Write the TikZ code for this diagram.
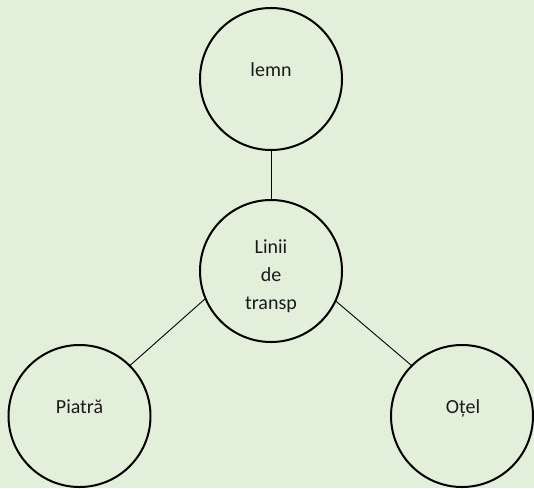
\documentclass[tikz,border=0pt]{standalone}
\usepackage{fontspec}
\setmainfont{Carlito}
\definecolor{bg}{HTML}{E2EFDA}
\definecolor{txt}{HTML}{1A1A1A}
\begin{document}
\begin{tikzpicture}[x=1pt,y=-1pt,
  circ/.style={circle,draw=black,line width=2pt,minimum size=142pt,inner sep=0pt},
  lbl/.style={font=\fontsize{20}{28}\selectfont,text=txt,inner sep=0pt,align=center},
  conn/.style={draw=black,line width=0.9pt}]
\fill[bg] (0,0) rectangle (534,488);
\useasboundingbox (0,0) rectangle (534,488);
\node[circ] (top) at (271,79) {};
\node[circ] (mid) at (271,271) {};
\node[circ] (left) at (79.5,416) {};
\node[circ] (right) at (462,416) {};
\node[lbl,anchor=base] (ttop) at (271,76) {lemn};
\node[lbl,anchor=center] (tmid) at (271,276.5) {Linii\\de\\transp};
\node[lbl,anchor=base] (tleft) at (79.5,413) {Piatră};
\node[lbl,anchor=base] (tright) at (463,413) {Oțel};
\draw[conn] (top.south) -- (mid.north);
\draw[conn] (mid.203) -- (left.45);
\draw[conn] (mid.-25) -- (right.135);
\end{tikzpicture}
\end{document}
